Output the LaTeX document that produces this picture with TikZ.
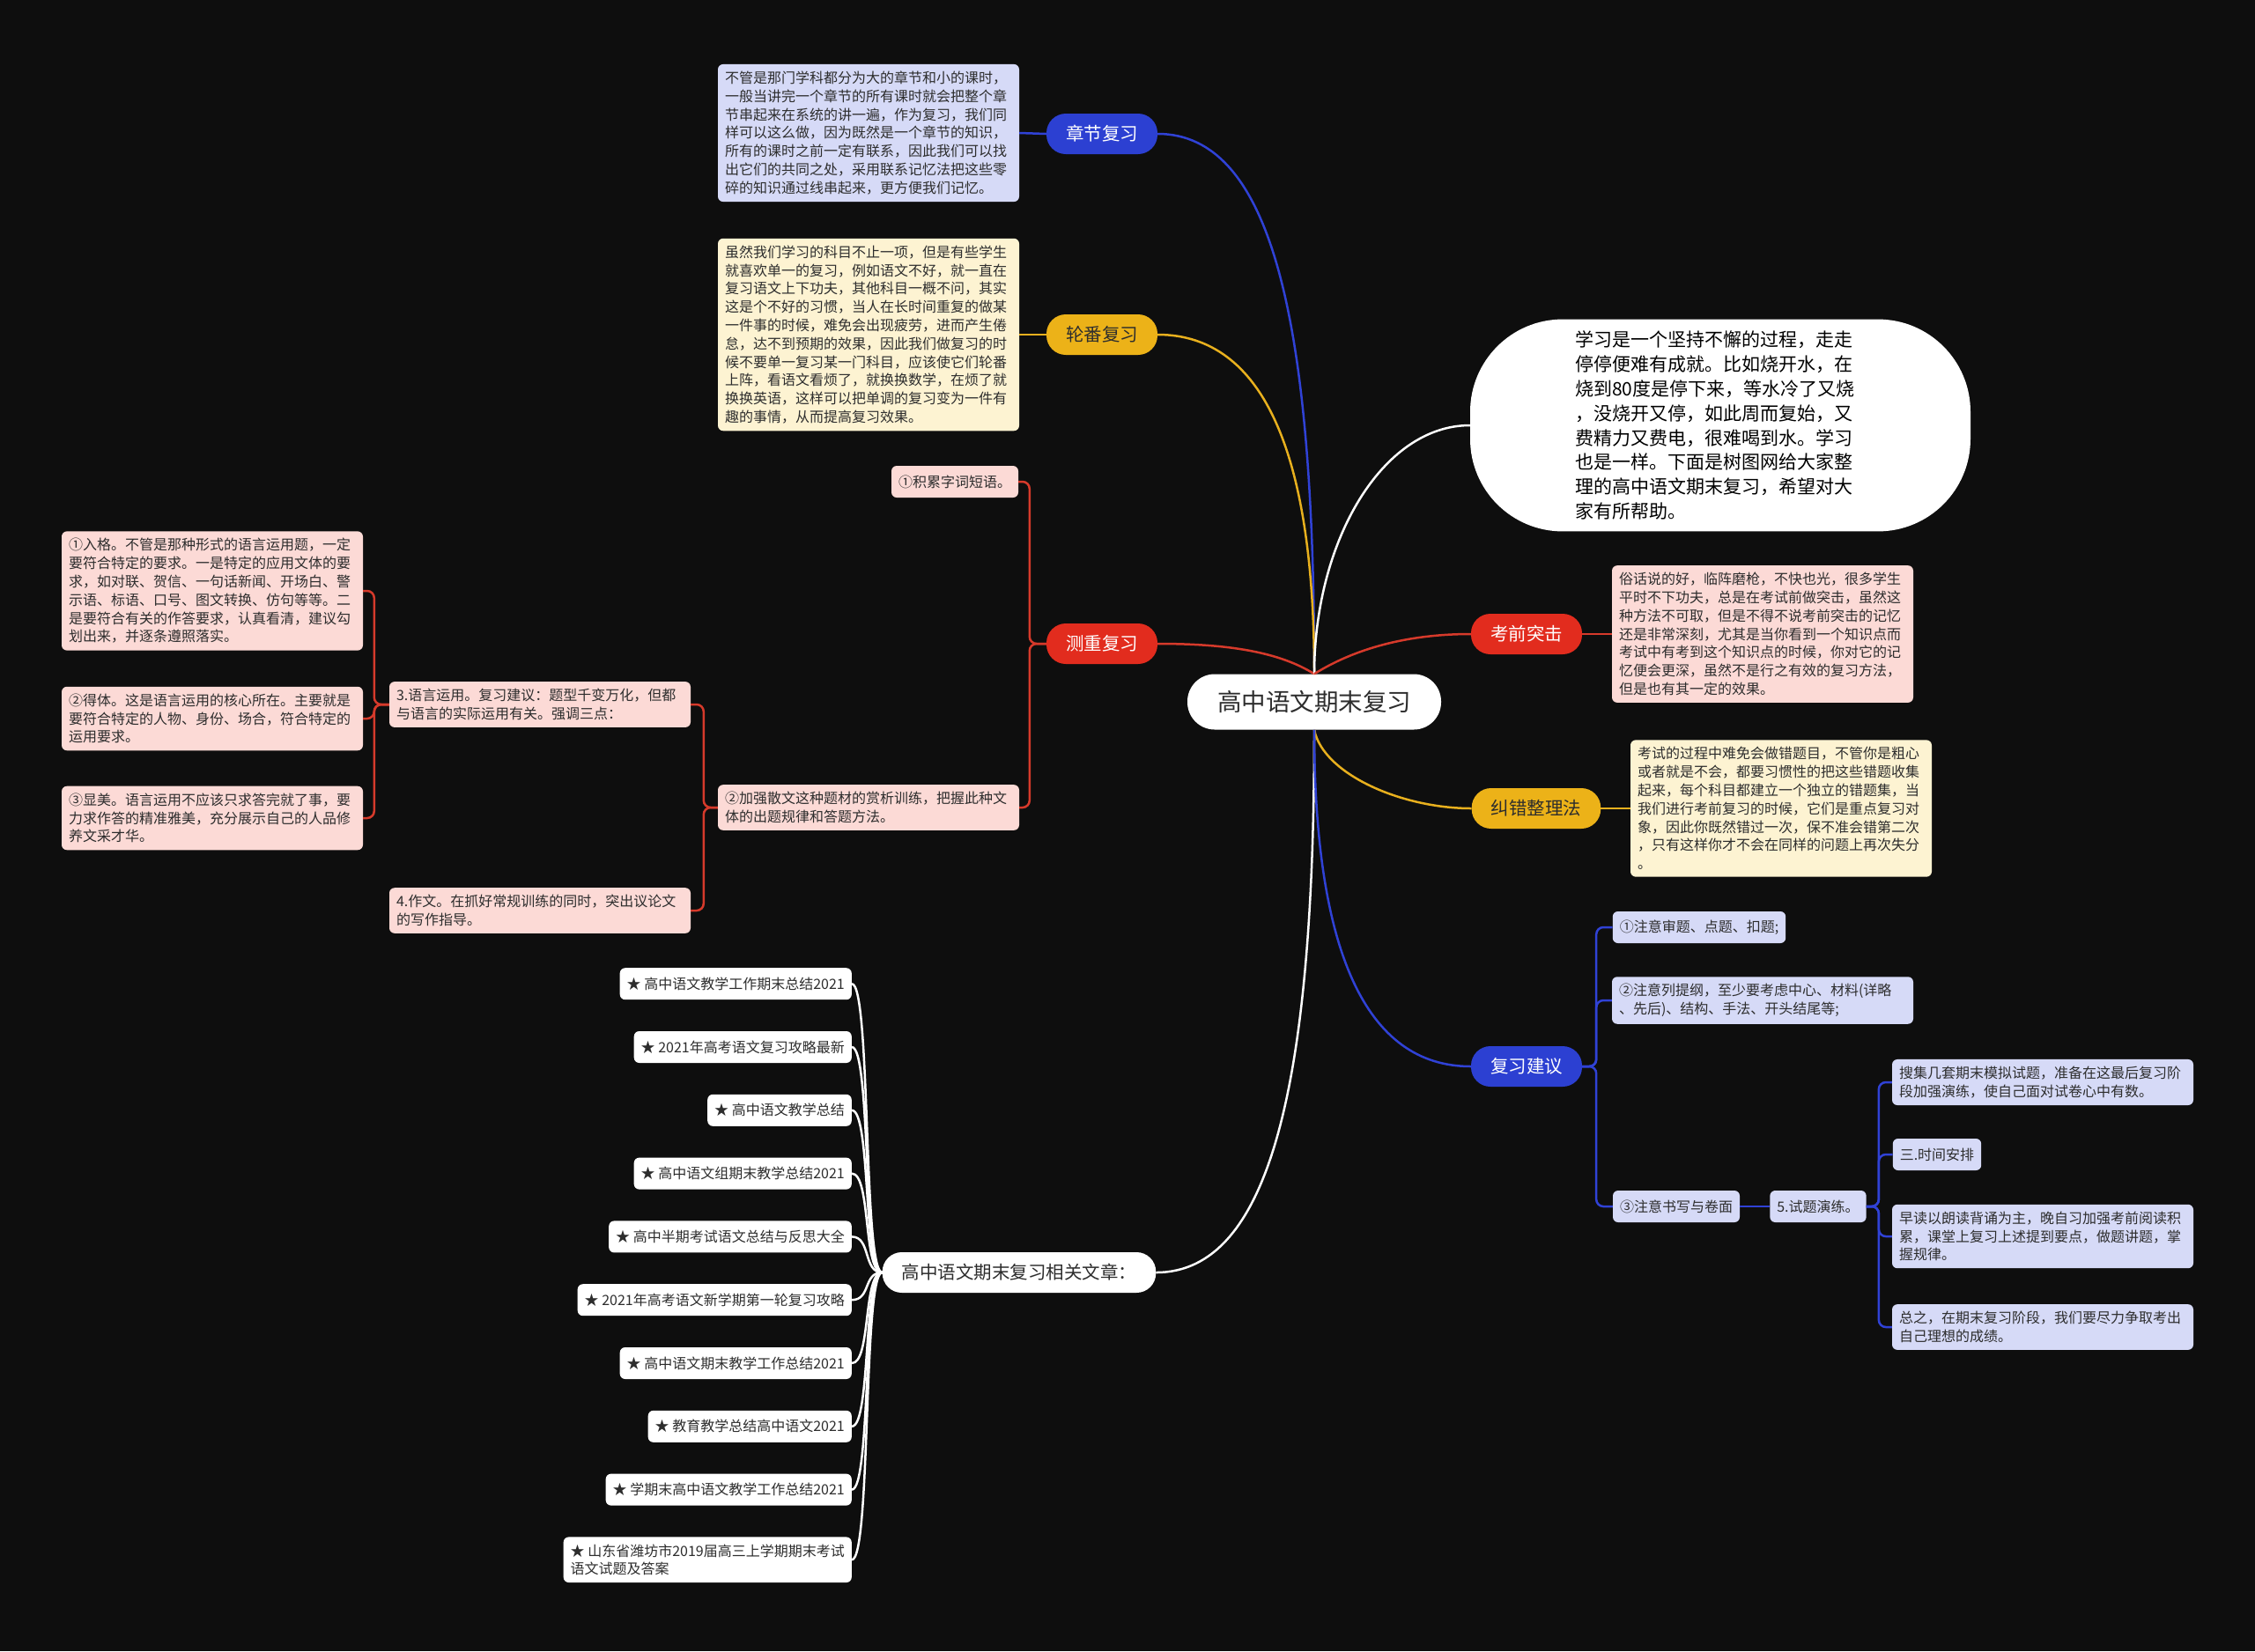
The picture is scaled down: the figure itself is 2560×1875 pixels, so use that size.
\documentclass[tikz,border=0pt]{standalone}
\usepackage{fontspec}
\setmainfont{Noto Sans CJK SC}
\usepackage{xcolor}
\usepackage{tikz}

\definecolor{bgdark}{RGB}{14,14,14}
\definecolor{pillblue}{RGB}{44,64,210}
\definecolor{pillyellow}{RGB}{236,178,24}
\definecolor{pillred}{RGB}{226,44,30}
\definecolor{lineblue}{RGB}{48,66,214}
\definecolor{lineyellow}{RGB}{232,176,30}
\definecolor{linered}{RGB}{214,58,43}
\definecolor{boxblue}{RGB}{214,218,247}
\definecolor{boxyellow}{RGB}{253,243,210}
\definecolor{boxred}{RGB}{252,218,214}
\definecolor{txtdark}{RGB}{45,45,45}

\tikzset{
  pill/.style={rounded corners=22pt, minimum height=46pt, inner xsep=22pt, inner ysep=0pt, font=\fontsize{20.5}{24}\selectfont},
  bluepill/.style={pill, fill=pillblue, text=white},
  yellowpill/.style={pill, fill=pillyellow, text=txtdark},
  redpill/.style={pill, fill=pillred, text=white},
  whitepill/.style={pill, fill=white, text=txtdark},
  rootbox/.style={fill=white, text=txtdark, rounded corners=31pt, minimum height=63pt, inner xsep=34pt, font=\fontsize{27.5}{30}\selectfont},
  introbox/.style={fill=white, text=black, rounded corners=105pt, text width=330pt, inner xsep=119pt, inner ysep=13pt, align=left, font=\fontsize{21}{27.9}\selectfont},
  note/.style={rounded corners=6pt, inner xsep=8pt, inner ysep=8pt, minimum height=36pt, align=left, text=txtdark, font=\fontsize{16}{20.8}\selectfont},
  longnote/.style={text width=326pt},
  bluenote/.style={note, fill=boxblue},
  yellownote/.style={note, fill=boxyellow},
  rednote/.style={note, fill=boxred},
  whitenote/.style={note, fill=white},
  link/.style={line width=2.5pt},
  bluelink/.style={link, draw=lineblue},
  yellowlink/.style={link, draw=lineyellow},
  redlink/.style={link, draw=linered},
  whitelink/.style={link, draw=white},
  elbow/.style={rounded corners=8pt},
}

\begin{document}
\begin{tikzpicture}[x=1pt, y=-1pt]
    \useasboundingbox (0,0) rectangle (2560,1875);
    \fill[bgdark] (0,0) rectangle (2560,1875);

    \node[rootbox] (root) at (1492,797) {高中语文期末复习};

    % left side
    \node[bluepill] (zjfx) at (1251,152) {章节复习};
    \node[bluenote, longnote] (zjdet) at (986,151) {不管是那门学科都分为大的章节和小的课时，\\一般当讲完一个章节的所有课时就会把整个章\\节串起来在系统的讲一遍，作为复习，我们同\\样可以这么做，因为既然是一个章节的知识，\\所有的课时之前一定有联系，因此我们可以找\\出它们的共同之处，采用联系记忆法把这些零\\碎的知识通过线串起来，更方便我们记忆。};

    \node[yellowpill] (lffx) at (1251,380) {轮番复习};
    \node[yellownote, longnote] (lfdet) at (986,380) {虽然我们学习的科目不止一项，但是有些学生\\就喜欢单一的复习，例如语文不好，就一直在\\复习语文上下功夫，其他科目一概不问，其实\\这是个不好的习惯，当人在长时间重复的做某\\一件事的时候，难免会出现疲劳，进而产生倦\\怠，达不到预期的效果，因此我们做复习的时\\候不要单一复习某一门科目，应该使它们轮番\\上阵，看语文看烦了，就换换数学，在烦了就\\换换英语，这样可以把单调的复习变为一件有\\趣的事情，从而提高复习效果。};

    \node[redpill] (czfx) at (1251,731) {测重复习};
    \node[rednote] (jl) at (1084,547) {①积累字词短语。};
    \node[rednote, longnote] (jq) at (986,917) {②加强散文这种题材的赏析训练，把握此种文\\体的出题规律和答题方法。};
    \node[rednote, longnote] (yy) at (613,800) {3.语言运用。复习建议：题型千变万化，但都\\与语言的实际运用有关。强调三点：};
    \node[rednote, longnote] (zw) at (613,1034) {4.作文。在抓好常规训练的同时，突出议论文\\的写作指导。};
    \node[rednote, longnote] (rg) at (241,671) {①入格。不管是那种形式的语言运用题，一定\\要符合特定的要求。一是特定的应用文体的要\\求，如对联、贺信、一句话新闻、开场白、警\\示语、标语、口号、图文转换、仿句等等。二\\是要符合有关的作答要求，认真看清，建议勾\\划出来，并逐条遵照落实。};
    \node[rednote, longnote] (dt) at (241,816) {②得体。这是语言运用的核心所在。主要就是\\要符合特定的人物、身份、场合，符合特定的\\运用要求。};
    \node[rednote, longnote] (xm) at (241,929) {③显美。语言运用不应该只求答完就了事，要\\力求作答的精准雅美，充分展示自己的人品修\\养文采才华。};

    \node[whitepill] (xgwz) at (1157,1445) {高中语文期末复习相关文章：};
    \foreach \t [count=\i] in {高中语文教学工作期末总结2021, 2021年高考语文复习攻略最新, 高中语文教学总结, 高中语文组期末教学总结2021, 高中半期考试语文总结与反思大全, 2021年高考语文新学期第一轮复习攻略, 高中语文期末教学工作总结2021, 教育教学总结高中语文2021, 学期末高中语文教学工作总结2021, {山东省潍坊市2019届高三上学期期末考试\\语文试题及答案}}
        \node[whitenote, anchor=north east] (a\i) at (967,1099+71.8*\i-71.8) {★ \t};

    % right side
    \node[introbox] (intro) at (1953,483) {学习是一个坚持不懈的过程，走走\\停停便难有成就。比如烧开水，在\\烧到80度是停下来，等水冷了又烧\\，没烧开又停，如此周而复始，又\\费精力又费电，很难喝到水。学习\\也是一样。下面是树图网给大家整\\理的高中语文期末复习，希望对大\\家有所帮助。};

    \node[redpill] (kqtj) at (1733,720) {考前突击};
    \node[rednote, longnote] (kqdet) at (2001,720) {俗话说的好，临阵磨枪，不快也光，很多学生\\平时不下功夫，总是在考试前做突击，虽然这\\种方法不可取，但是不得不说考前突击的记忆\\还是非常深刻，尤其是当你看到一个知识点而\\考试中有考到这个知识点的时候，你对它的记\\忆便会更深，虽然不是行之有效的复习方法，\\但是也有其一定的效果。};

    \node[yellowpill] (jczl) at (1744,918) {纠错整理法};
    \node[yellownote, longnote] (jcdet) at (2022,918) {考试的过程中难免会做错题目，不管你是粗心\\或者就是不会，都要习惯性的把这些错题收集\\起来，每个科目都建立一个独立的错题集，当\\我们进行考前复习的时候，它们是重点复习对\\象，因此你既然错过一次，保不准会错第二次\\，只有这样你才不会在同样的问题上再次失分\\。};

    \node[bluepill] (fxjy) at (1733,1211) {复习建议};
    \node[bluenote] (sy1) at (1929,1053) {①注意审题、点题、扣题;};
    \node[bluenote, longnote] (sy2) at (2001,1136) {②注意列提纲，至少要考虑中心、材料(详略\\、先后)、结构、手法、开头结尾等;};
    \node[bluenote] (sy3) at (1903,1370) {③注意书写与卷面};
    \node[bluenote] (styl) at (2064,1370) {5.试题演练。};
    \node[bluenote, longnote] (sj1) at (2319,1229) {搜集几套期末模拟试题，准备在这最后复习阶\\段加强演练，使自己面对试卷心中有数。};
    \node[bluenote] (sj2) at (2199,1311) {三.时间安排};
    \node[bluenote, longnote] (sj3) at (2319,1404) {早读以朗读背诵为主，晚自习加强考前阅读积\\累，课堂上复习上述提到要点，做题讲题，掌\\握规律。};
    \node[bluenote, longnote] (sj4) at (2319,1507) {总之，在期末复习阶段，我们要尽力争取考出\\自己理想的成绩。};

    % main branches
    \draw[bluelink] (zjfx.east) .. controls +(130,0) and +(0,-400) .. (root.north);
    \draw[yellowlink] (lffx.east) .. controls +(120,0) and +(0,-250) .. (root.north);
    \draw[redlink] (czfx.east) .. controls +(80,0) and +(-40,-25) .. (root.north);
    \draw[whitelink] (xgwz.east) .. controls +(130,0) and +(0,400) .. (root.south);
    \draw[whitelink] (root.north) .. controls +(0,-150) and +(-100,0) .. (intro.west);
    \draw[redlink] (root.north) .. controls +(40,-25) and +(-80,0) .. (kqtj.west);
    \draw[yellowlink] (root.south) .. controls +(10,50) and +(-80,0) .. (jczl.west);
    \draw[bluelink] (root.south) .. controls +(0,250) and +(-120,0) .. (fxjy.west);

    % sub branches
    \draw[bluelink] (zjdet.east) -- (zjfx.west);
    \draw[yellowlink] (lfdet.east) -- (lffx.west);
    \draw[redlink] (kqtj.east) -- (kqdet.west);
    \draw[yellowlink] (jczl.east) -- (jcdet.west);
    \draw[redlink, elbow] (czfx.west) -- ++(-19,0) |- (jl.east);
    \draw[redlink, elbow] (czfx.west) -- ++(-19,0) |- (jq.east);
    \draw[redlink, elbow] (jq.west) -- ++(-16,0) |- (yy.east);
    \draw[redlink, elbow] (jq.west) -- ++(-16,0) |- (zw.east);
    \foreach \c in {rg,dt,xm}
        \draw[redlink, elbow] (yy.west) -- ++(-17,0) |- (\c.east);
    \foreach \c in {sy1,sy2,sy3}
        \draw[bluelink, elbow] (fxjy.east) -- ++(16,0) |- (\c.west);
    \draw[bluelink] (sy3.east) -- (styl.west);
    \foreach \c in {sj1,sj2,sj3,sj4}
        \draw[bluelink, elbow] (styl.east) -- ++(14,0) |- (\c.west);
    \foreach \i in {1,...,10}
        \draw[whitelink] (xgwz.west) .. controls +(-22,0) and +(22,0) .. (a\i.east);

\end{tikzpicture}
\end{document}
